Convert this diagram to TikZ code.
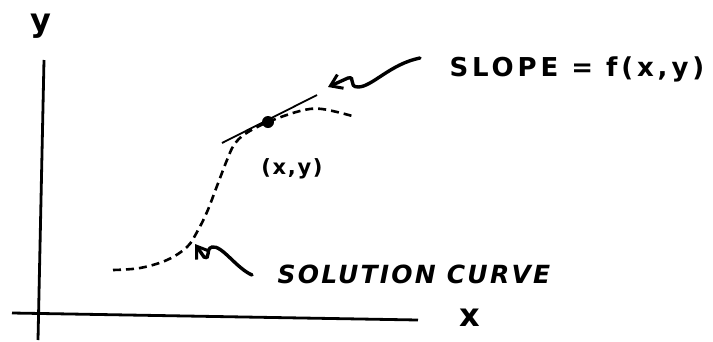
\documentclass[tikz,border=0pt]{standalone}
\usepackage{fontspec}
\setsansfont{DejaVu Sans}
\usepackage{tikz}
\usetikzlibrary{arrows.meta}

\begin{document}
\begin{tikzpicture}[
    x=1pt, y=-1pt,
    >={Straight Barb[length=11pt, width=15pt, line width=3pt]},
    every node/.style={font=\sffamily\bfseries\fontsize{26}{30}\selectfont},
    axis/.style={line width=2.8pt},
    curve/.style={line width=2.6pt, dash pattern=on 8pt off 5pt},
    pointer/.style={->, line width=3.4pt, line cap=round},
  ]
  \useasboundingbox (0,0) rectangle (713,341);

  % axes
  \coordinate (ytop) at (44,60);
  \coordinate (ybot) at (38,340);
  \coordinate (xleft) at (12,313);
  \coordinate (xright) at (418,320);
  \draw[axis] (ybot) -- (ytop);
  \draw[axis] (xleft) -- (xright);
  \node[font=\sffamily\bfseries\fontsize{32}{36}\selectfont] (ylab) at (41,26) {y};
  \node[font=\sffamily\bfseries\fontsize{32}{36}\selectfont] (xlab) at (470,318) {x};

  % solution curve and tangent
  \fill (268,122) circle (6pt) coordinate (pt);
  \draw[curve] plot[smooth, tension=0.6] coordinates {
    (113,270) (140,268) (167,260) (187,247) (197,232) (207,212)
    (217,186) (227,160) (234,145) (245,134) (268,122) (300,111)
    (322,109) (356,117)};
  \coordinate (t0) at (222,143);
  \coordinate (t1) at (317,95);
  \draw[line width=1.8pt] (t0) -- (t1);
  \node[font=\sffamily\bfseries\fontsize{21}{24}\selectfont\addfontfeatures{LetterSpace=8}]
    (xy) at (292,169) {(x,y)};

  % labels with pointers
  \node[anchor=west, font=\sffamily\bfseries\fontsize{26}{30}\selectfont\addfontfeatures{LetterSpace=15}]
    (slope) at (446,69) {SLOPE = f(x,y)};
  \coordinate (sltail) at (420,58);
  \coordinate (sltip) at (328,87);
  \draw[pointer] (sltail) .. controls (390,64) and (372,87) .. (358,87)
    .. controls (348,87) and (356,76) .. (348,78) -- (sltip);

  \node[anchor=west, font=\sffamily\bfseries\itshape\fontsize{25}{30}\selectfont\addfontfeatures{LetterSpace=9}]
    (sol) at (274,274) {SOLUTION CURVE};
  \coordinate (sotail) at (252,275);
  \coordinate (sotip) at (195,244);
  \draw[pointer] (sotail) .. controls (236,268) and (222,245) .. (212,247)
    .. controls (205,249) and (211,260) .. (204,257) -- (sotip);
\end{tikzpicture}
\end{document}
